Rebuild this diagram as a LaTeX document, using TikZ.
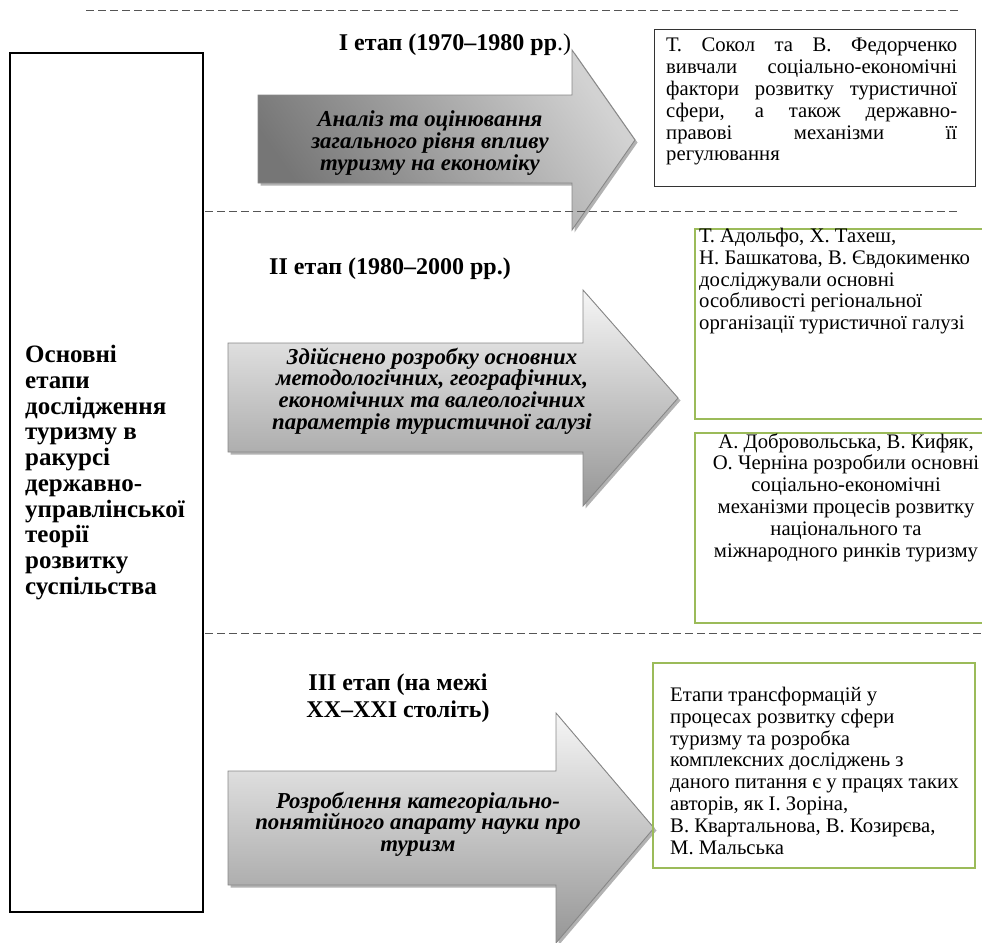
\documentclass[tikz,border=0pt]{standalone}
\usepackage{fontspec}
\setmainfont{Liberation Serif}
\usetikzlibrary{shadows}
\definecolor{olivegreen}{RGB}{155,187,89}
\definecolor{dashgray}{RGB}{85,85,85}
\definecolor{arrowborder}{RGB}{135,135,135}
\definecolor{darkleft}{RGB}{118,118,118}
\definecolor{darkmid}{RGB}{175,175,175}
\definecolor{darkright}{RGB}{210,210,210}
\definecolor{lighttop}{RGB}{246,246,246}
\definecolor{lightbot}{RGB}{150,150,150}
\begin{document}
\begin{tikzpicture}[x=1pt,y=-1pt,
  dashsep/.style={draw=dashgray, line width=0.9pt, dash pattern=on 8pt off 4pt},
  mainbox/.style={draw=black, line width=1.3pt, minimum width=193pt, minimum height=859pt, inner sep=0pt},
  blackbox/.style={draw=black!80, line width=0.8pt, inner sep=0pt},
  greenbox/.style={draw=olivegreen, line width=1.6pt, inner sep=0pt},
  heading/.style={font=\fontsize{24}{27}\selectfont\bfseries, align=center, inner sep=0pt},
  maintext/.style={font=\fontsize{25}{25.7}\selectfont\bfseries, align=left, inner sep=0pt},
  arrtext/.style={font=\fontsize{22.8}{21.7}\selectfont\bfseries\itshape, align=center, inner sep=0pt},
  boxtext/.style={font=\fontsize{20.7}{21.8}\selectfont, inner sep=0pt},
  arrowshade/.style={draw=arrowborder, line width=0.9pt,
    drop shadow={shadow xshift=2.5pt, shadow yshift=-2.5pt, fill=black, opacity=0.3}},
  darkarrow/.style={arrowshade, left color=darkleft, middle color=darkmid, right color=darkright, shading angle=125},
  lightarrow/.style={arrowshade, top color=lighttop, bottom color=lightbot}
]
\clip (0,0) rectangle (982,942);

% main box
\node[mainbox] (main) at (106.5,482.5) {};
\node[maintext, anchor=west] (maintxt) at (25,472.5) {Основні\\етапи\\дослідження\\туризму в\\ракурсі\\державно-\\управлінської\\теорії\\розвитку\\суспільства};

% arrows
\path[darkarrow] (258,95) -- (572,95) -- (572,50) -- (635,140) -- (572,230) -- (572,183) -- (258,183) -- cycle;
\path[lightarrow] (228,343) -- (583,343) -- (583,290) -- (678,398) -- (583,506) -- (583,452) -- (228,452) -- cycle;
\path[lightarrow] (228,771) -- (556,771) -- (556,713) -- (654,828) -- (556,943) -- (556,885) -- (228,885) -- cycle;

% dashed separators
\coordinate (d1a) at (86,10);  \coordinate (d1b) at (960,10);
\coordinate (d2a) at (205,211); \coordinate (d2b) at (960,211);
\coordinate (d3a) at (205,633); \coordinate (d3b) at (982,633);
\draw[dashsep] (d1a) -- (d1b);
\draw[dashsep] (d2a) -- (d2b);
\draw[dashsep] (d3a) -- (d3b);

% headings
\node[heading] (h1) at (455,45) {І етап (1970–1980 рр\mdseries.)};
\node[heading] (h2) at (390,269) {ІІ етап (1980–2000 рр.)};
\node[heading] (h3) at (398,698) {ІІІ етап (на межі\\XX–XXI століть)};

% arrow texts
\node[arrtext] (a1) at (430,143) {Аналіз та оцінювання\\загального рівня впливу\\туризму на економіку};
\node[arrtext] (a2) at (432,391) {Здійснено розробку основних\\методологічних, географічних,\\економічних та валеологічних\\параметрів туристичної галузі};
\node[arrtext] (a3) at (418,824) {Розроблення категоріально-\\понятійного апарату науки про\\туризм};

% boxes
\node[blackbox, minimum width=321pt, minimum height=157pt] (b1) at (814.5,107.5) {};
\node[greenbox, minimum width=300pt, minimum height=190pt] (b2a) at (845,324) {};
\node[greenbox, minimum width=300pt, minimum height=190pt] (b2b) at (845,528) {};
\node[greenbox, minimum width=322pt, minimum height=205pt] (b3) at (814,765.5) {};

\node[boxtext, anchor=north west, align=left] (t1) at (666,38) {%
\makebox[291pt][s]{Т. Сокол та В. Федорченко}\\
\makebox[291pt][s]{вивчали соціально-економічні}\\
\makebox[291pt][s]{фактори розвитку туристичної}\\
\makebox[291pt][s]{сфери, а також державно-}\\
\makebox[291pt][s]{правові механізми її}\\
регулювання};
\node[boxtext, anchor=north west, align=left] (t2a) at (699,228) {Т. Адольфо, Х. Тахеш,\\Н. Башкатова, В. Євдокименко\\досліджували основні\\особливості регіональної\\організації туристичної галузі};
\node[boxtext, anchor=north, align=center] (t2b) at (846,433) {А. Добровольська, В. Кифяк,\\О. Черніна розробили основні\\соціально-економічні\\механізми процесів розвитку\\національного та\\міжнародного ринків туризму};
\node[boxtext, anchor=north west, align=left] (t3) at (670,687) {Етапи трансформацій у\\процесах розвитку сфери\\туризму та розробка\\комплексних досліджень з\\даного питання є у працях таких\\авторів, як І. Зоріна,\\В. Квартальнова, В. Козирєва,\\М. Мальська};
\end{tikzpicture}
\end{document}
